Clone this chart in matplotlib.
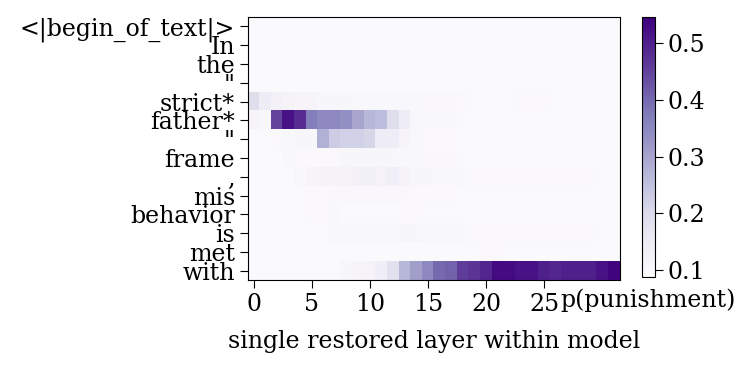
import numpy as np
import matplotlib.pyplot as plt

plt.rcParams['font.family'] = 'DejaVu Serif'

tokens = ['<|begin_of_text|>', 'In', 'the', '"', 'strict*', 'father*', '"',
          'frame', ',', 'mis', 'behavior', 'is', 'met', 'with']
n_layers = 32
base = 0.095

# per-row values (layers 0..31), rest is baseline
row_strict = [0.19, 0.15, 0.13, 0.12, 0.115, 0.115, 0.11, 0.11, 0.11, 0.105,
              0.105, 0.105, 0.105, 0.105, 0.105, 0.103, 0.103, 0.103, 0.1, 0.098,
              0.098, 0.098, 0.098, 0.1, 0.1, 0.1]
row_father = [0.115, 0.11, 0.45, 0.52, 0.48, 0.37, 0.35, 0.35, 0.34, 0.3,
              0.27, 0.26, 0.19, 0.15, 0.11, 0.105, 0.105, 0.105]
row_quote2 = [0.097, 0.097, 0.1, 0.105, 0.11, 0.11, 0.28, 0.23, 0.22, 0.22,
              0.21, 0.15, 0.15, 0.115, 0.105, 0.1, 0.1, 0.1]
row_frame = [0.096, 0.096, 0.097, 0.105, 0.1, 0.1, 0.1, 0.1, 0.11, 0.11,
             0.11, 0.11, 0.11, 0.105, 0.105, 0.103, 0.103, 0.103]
row_comma = [0.096, 0.096, 0.096, 0.097, 0.105, 0.115, 0.12, 0.12, 0.12, 0.13,
             0.135, 0.125, 0.14, 0.12, 0.11, 0.11, 0.105, 0.105, 0.105, 0.1,
             0.1, 0.1, 0.1, 0.1, 0.1, 0.1, 0.1, 0.1, 0.1, 0.1]
row_mis = [0.096, 0.096, 0.096, 0.096, 0.096, 0.1, 0.1, 0.103, 0.103, 0.103,
           0.103, 0.103, 0.103, 0.103, 0.1, 0.1, 0.1, 0.1]
row_behavior = [0.096, 0.096, 0.096, 0.096, 0.096, 0.1, 0.1, 0.105, 0.097, 0.097,
                0.098, 0.098, 0.098, 0.1, 0.1, 0.098]
row_is = [0.096, 0.096, 0.096, 0.096, 0.096, 0.096, 0.096, 0.105, 0.105, 0.105,
          0.104, 0.104, 0.104, 0.11, 0.11, 0.104, 0.104, 0.104, 0.104, 0.1,
          0.1, 0.1, 0.1, 0.1, 0.1, 0.1, 0.1, 0.1, 0.1, 0.1]
row_met = [0.096, 0.096, 0.096, 0.096, 0.096, 0.096, 0.096, 0.096, 0.096, 0.096,
           0.096, 0.096, 0.096, 0.096, 0.098, 0.098, 0.098, 0.098, 0.098, 0.098,
           0.1, 0.1]
row_with = [0.095, 0.095, 0.095, 0.095, 0.095, 0.095, 0.095, 0.098, 0.11, 0.115,
            0.12, 0.14, 0.18, 0.27, 0.31, 0.35, 0.4, 0.41, 0.46, 0.47,
            0.49, 0.53, 0.53, 0.52, 0.52, 0.5, 0.49, 0.5, 0.5, 0.5,
            0.52, 0.54]

rows = {4: row_strict, 5: row_father, 6: row_quote2, 7: row_frame, 8: row_comma,
        9: row_mis, 10: row_behavior, 11: row_is, 12: row_met, 13: row_with}

scores = np.full((len(tokens), n_layers), base)
for r, vals in rows.items():
    scores[r, :len(vals)] = vals

fs = 17
fig = plt.figure(figsize=(7.54, 3.69), dpi=100)
ax = fig.add_axes([0.329, 0.241, 0.493, 0.713])
h = ax.pcolor(scores, cmap='Purples', vmin=0.0877, vmax=0.546)
ax.invert_yaxis()
ax.set_yticks([0.5 + i for i in range(len(tokens))])
ax.set_yticklabels(tokens, fontsize=fs)
ax.set_xticks([0.5 + i for i in range(0, n_layers - 4, 5)])
ax.set_xticklabels(list(range(0, n_layers - 4, 5)), fontsize=fs)
ax.set_xlabel('single restored layer within model', fontsize=fs, labelpad=10)
ax.tick_params(length=6)

cax = fig.add_axes([0.851, 0.249, 0.0172, 0.705])
cb = plt.colorbar(h, cax=cax)
cb.set_ticks([0.1, 0.2, 0.3, 0.4, 0.5])
cb.ax.tick_params(labelsize=fs, length=6)
cb.ax.set_title('p(punishment)', y=-0.145, fontsize=fs)

fig.savefig('out.png', dpi=100)
